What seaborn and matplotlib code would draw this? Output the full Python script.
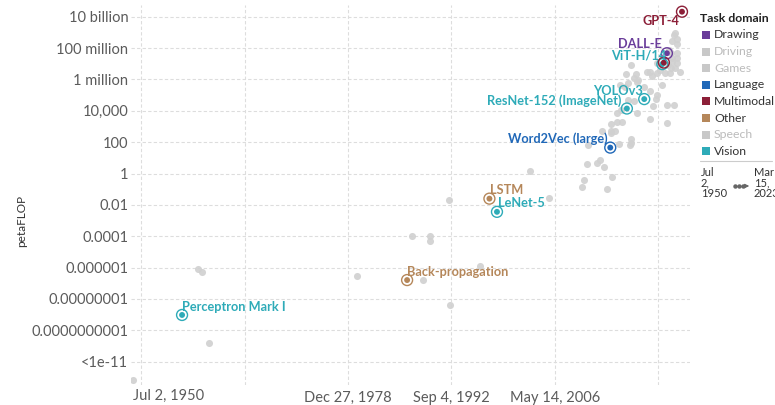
import numpy as np
import pandas as pd
import matplotlib.pyplot as plt
import seaborn as sns
from matplotlib.lines import Line2D
from matplotlib.patches import Rectangle, FancyArrowPatch

# ---- data ----
# background systems, drawn in grey (publication date as decimal year, petaFLOP)
other_year = [1950.5, 1959.1, 1959.6, 1960.6, 1980.2, 1987.4, 1988.9, 1989.8, 1989.8, 1992.3,
              1992.5, 1996.4, 2003.1, 2005.6, 2010.0, 2010.2, 2010.6, 2010.8, 2011.9, 2012.3,
              2012.9, 2012.6, 2013.3, 2013.8, 2013.8, 2013.8, 2013.9, 2014.3, 2014.6, 2014.6,
              2014.8, 2015.0, 2015.1, 2015.3, 2015.7, 2015.8, 2016.0, 2016.1, 2016.3, 2016.4,
              2016.4, 2016.5, 2016.8, 2016.8, 2017.1, 2017.2, 2017.3, 2017.4, 2018.2, 2018.5,
              2018.9, 2018.9, 2019.0, 2019.2, 2019.4, 2019.8, 2019.9, 2019.9, 2019.9, 2020.3,
              2020.6, 2021.0, 2021.2, 2021.2, 2021.4, 2021.5, 2021.6, 2021.7, 2021.8, 2021.9,
              2021.9, 2021.9, 2022.1, 2022.1, 2022.3, 2022.3, 2022.5, 2022.5, 2022.5, 2022.5,
              2022.6, 2022.9]
other_pflop = [6.3e-14, 7.8e-7, 5.5e-7, 1.5e-11, 2.8e-7, 1.0e-4, 1.6e-7, 1.0e-4, 5.1e-5, 2.1e-2,
               3.9e-9, 1.3e-6, 1.5, 2.9e-2, 0.14, 0.39, 4.1, 66, 4.5, 7.2,
               2.7, 540, 0.11, 380, 540, 1400, 0.58, 540, 1800, 6900,
               76, 4.4e5, 1.1e4, 1800, 3.2e5, 2.2e6, 4.9e4, 6.3e5, 66, 91,
               150, 8.3e6, 4.5e4, 1.2e6, 2.2e6, 6.9e5, 7600, 9.3e5, 3.2e5, 3.1e6,
               3000, 1.9e5, 3.2e6, 1.7e6, 2.0e4, 5.4e4, 1.0e5, 2.7e6, 1.2e7, 4.0e6,
               4.4e5, 2.5e6, 1700, 2.5e4, 7.9e6, 7.6e7, 2.5e6, 5.1e6, 4.7e7, 2.2e7,
               3.0e8, 1.3e7, 2.2e4, 6.8e8, 5.1e6, 8.7e8, 2.2e7, 1.8e8, 3.6e8, 1.2e7,
               5.1e7, 3.1e6]

# selected systems
sel_name = ["Perceptron Mark I", "Back-propagation", "LSTM", "LeNet-5", "Word2Vec (large)",
            "ResNet-152 (ImageNet)", "YOLOv3", "ViT-H/14", "DALL-E", "CLIP", "GPT-4"]
sel_year = [1957.0, 1986.8, 1997.7, 1998.7, 2013.7, 2015.9, 2018.2, 2020.6, 2021.2, 2020.8, 2023.2]
sel_pflop = [9.5e-10, 1.6e-7, 0.025, 3.6e-3, 45, 1.4e4, 5.6e4, 9.5e6, 4.7e7, 1.2e7, 2.1e10]
sel_domain = ["Vision", "Other", "Other", "Vision", "Language", "Vision", "Vision", "Vision",
              "Drawing", "Multimodal", "Multimodal"]
sel_labelled = [True, True, True, True, True, True, True, True, True, False, True]

domains = ["Drawing", "Driving", "Games", "Language", "Multimodal", "Other", "Speech", "Vision"]
domain_active = [True, False, False, True, True, True, False, True]

y_ticks = [1e10, 1e8, 1e6, 1e4, 1e2, 1, 1e-2, 1e-4, 1e-6, 1e-8, 1e-10, 1e-12]
y_labels = ["10 billion", "100 million", "1 million", "10,000", "100", "1", "0.01", "0.0001",
            "0.000001", "0.00000001", "0.0000000001", "<1e-11"]
x_tick_dates = ["1951-08-14", "1965-04-21", "1978-12-27", "1992-09-04", "2006-05-14", "2020-01-21"]
x_tick_labels = ["", "", "Dec 27, 1978", "Sep 4, 1992", "May 14, 2006", ""]

# ---- styling ----
palette = {"Drawing": "#6a3d9a", "Driving": "#c8c8c8", "Games": "#c8c8c8", "Language": "#2068b8",
           "Multimodal": "#8c1f38", "Other": "#b5875a", "Speech": "#c8c8c8", "Vision": "#2eabb8"}
label_offset = {  # pixels from the point to the text anchor
    "Perceptron Mark I": (0, 8, "left"), "Back-propagation": (0, 8, "left"),
    "LSTM": (1, 9, "left"), "LeNet-5": (1, 9, "left"),
    "Word2Vec (large)": (-3, 9, "right"), "ResNet-152 (ImageNet)": (-5, 8, "right"),
    "YOLOv3": (-1, 8, "right"), "ViT-H/14": (4, 9, "right"),
    "DALL-E": (-5, 9, "right"), "GPT-4": (-3, -9, "right"),
}
tick_color = "#5b5b5b"

sns.set_theme(style="white")
plt.rcParams["font.family"] = ["Lato", "DejaVu Sans"]

W, H = 775, 405
fig = plt.figure(figsize=(W / 100, H / 100), dpi=100)
ax_l, ax_r, ax_t, ax_b = 131, 690, 5, 385
ax = fig.add_axes([ax_l / W, 1 - ax_b / H, (ax_r - ax_l) / W, (ax_b - ax_t) / H])


def dec_year(d):
    t = pd.Timestamp(d)
    start = pd.Timestamp(year=t.year, month=1, day=1)
    return t.year + (t - start).days / 365.25


others = pd.DataFrame({"year": other_year, "pflop": other_pflop})
sel = pd.DataFrame({"name": sel_name, "year": sel_year, "pflop": sel_pflop,
                    "domain": sel_domain, "labelled": sel_labelled})

ax.set_yscale("log")
sns.scatterplot(data=others, x="year", y="pflop", color="#d0d0d0", s=26, linewidth=0,
                alpha=0.9, ax=ax, zorder=3)
sns.scatterplot(data=sel, x="year", y="pflop", hue="domain", palette=palette, s=18,
                linewidth=0, legend=False, ax=ax, zorder=5)
sns.scatterplot(data=sel, x="year", y="pflop", hue="domain", palette=palette, s=62,
                linewidth=1.0, legend=False, ax=ax, zorder=5)
# rings: keep only the outline
rings = ax.collections[-1]
rings.set_facecolor("none")
rings.set_edgecolor([palette[d] for d in sel_domain])

for _, r in sel.iterrows():
    if not r["labelled"]:
        continue
    dx, dy, ha = label_offset[r["name"]]
    ax.annotate(r["name"], (r["year"], r["pflop"]), xytext=(dx, dy), textcoords="offset pixels",
                ha=ha, va="center", fontsize=9.2, color=palette[r["domain"]],
                fontweight="bold", zorder=6)

# axes
ax.set_xlim(1950.24, 2024.26)
ax.set_ylim(10 ** -13.49, 10 ** 10.75)
ax.set_yticks(y_ticks)
ax.set_yticklabels(y_labels)
ax.minorticks_off()
ax.set_xticks([dec_year(d) for d in x_tick_dates])
ax.set_xticklabels(x_tick_labels)
ax.tick_params(axis="y", length=0, labelsize=10.5, labelcolor=tick_color, pad=2)
ax.tick_params(axis="x", length=0, labelsize=10.5, labelcolor=tick_color, pad=4)
ax.set_xlabel("")
ax.set_ylabel("")
for s in ax.spines.values():
    s.set_visible(False)
ax.grid(True, color="#dddddd", linestyle=(0, (3, 2)), linewidth=0.8)
ax.set_axisbelow(True)
ax.text(other_year[0], -0.011, "Jul 2, 1950", transform=ax.get_xaxis_transform(),
        ha="left", va="top", fontsize=10.5, color=tick_color)

fig.text(22 / W, 1 - 221 / H, "petaFLOP", rotation=90, ha="center", va="center",
         fontsize=8.5, color="#333333")

# legend
fig.text(700 / W, 1 - 18 / H, "Task domain", ha="left", va="center", fontsize=8.8,
         fontweight="bold", color="#222222")
for i, (d, act) in enumerate(zip(domains, domain_active)):
    yc = 35 + i * 16.6
    fig.add_artist(Rectangle((702 / W, 1 - (yc + 4) / H), 8 / W, 8 / H,
                             transform=fig.transFigure, color=palette[d], lw=0))
    fig.text(714 / W, 1 - yc / H, d, ha="left", va="center", fontsize=8.8,
             color="#333333" if act else "#bbbbbb")
fig.add_artist(Line2D([700 / W, 772 / W], [1 - 161 / H, 1 - 161 / H],
                      transform=fig.transFigure, color="#cccccc", lw=0.8))
fig.text(701 / W, 1 - 167 / H, "Jul\n2,\n1950", ha="left", va="top", fontsize=8,
         color="#333333", linespacing=0.95)
fig.text(754 / W, 1 - 167 / H, "Mar\n15,\n2023", ha="left", va="top", fontsize=8,
         color="#333333", linespacing=0.95)
fig.add_artist(Line2D([735 / W, 739 / W, 743 / W], [1 - 186 / H] * 3, transform=fig.transFigure,
                      marker="o", markersize=2.2, lw=0.8, color="#666666"))
fig.add_artist(FancyArrowPatch((743 / W, 1 - 186 / H), (752 / W, 1 - 186 / H),
                               transform=fig.transFigure, arrowstyle="-|>",
                               mutation_scale=6, color="#666666", lw=0.8))

fig.savefig("out.png", dpi=100)
